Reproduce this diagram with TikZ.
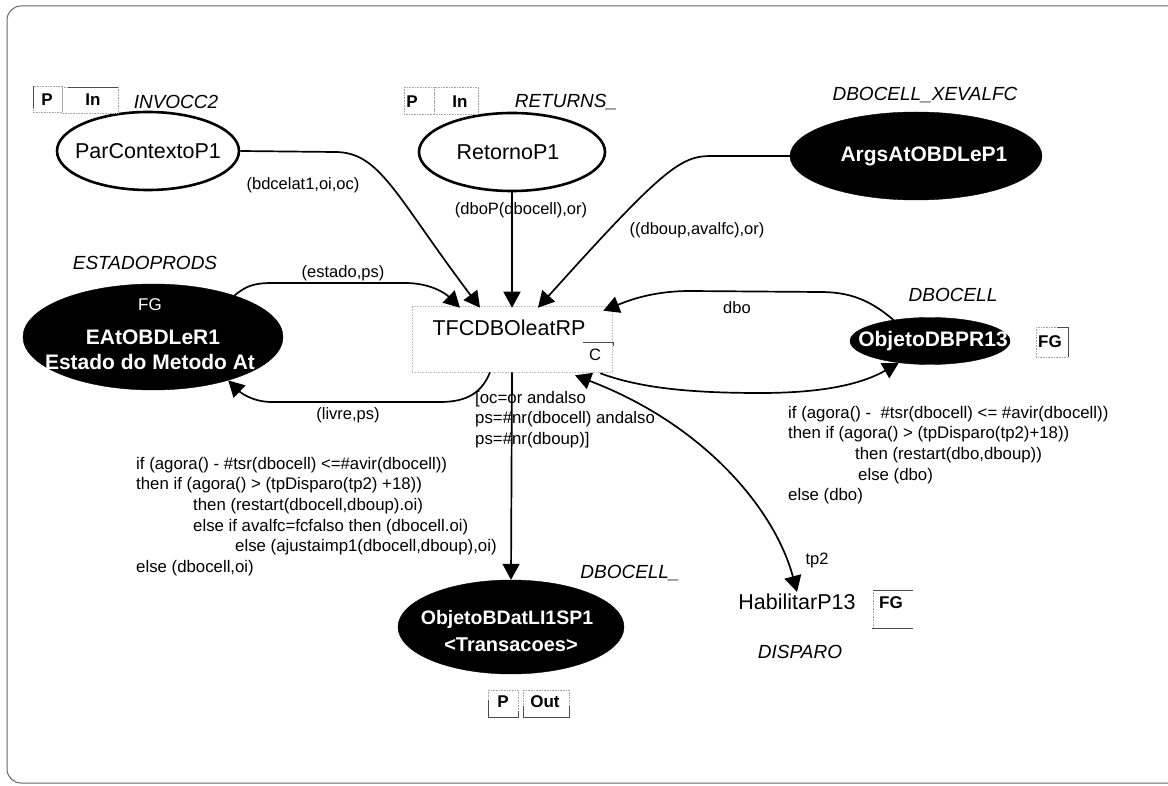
\documentclass[tikz,border=0pt]{standalone}
\usepackage{fontspec}
\setmainfont{Liberation Sans}
\usetikzlibrary{shapes.geometric,arrows.meta,calc}

\begin{document}
\begin{tikzpicture}[x=1pt,y=-1pt,
  place/.style={ellipse, draw=black, line width=2.6pt, inner sep=0pt},
  fplace/.style={ellipse, fill=black, draw=black, inner sep=0pt},
  pname/.style={font=\fontsize{21.5}{24}\selectfont, inner sep=0pt},
  wname/.style={font=\fontsize{21}{26}\selectfont\bfseries, text=white, inner sep=0pt},
  ptype/.style={font=\fontsize{19}{22}\selectfont\itshape, inner sep=0pt},
  lbl/.style={font=\fontsize{16.5}{20.5}\selectfont, inner sep=0pt},
  insc/.style={font=\fontsize{16.8}{20.6}\selectfont, inner sep=0pt, align=left, anchor=north west},
  tag/.style={font=\fontsize{17}{20}\selectfont\bfseries, inner sep=0pt},
  arc/.style={line width=1.7pt, -{Triangle[length=16pt,width=17pt]}},
  ghost/.style={draw=black!35, densely dotted, line width=0.6pt},
  tagline/.style={draw=black!70, line width=0.8pt},
]
\useasboundingbox (0,0) rectangle (1168,786);

% page frame, open to the right
\begin{scope}
  \clip (0,0) rectangle (1168,786);
  \draw[black!60, line width=1pt, rounded corners=14pt] (1200,6) -- (7,6) -- (7,783) -- (1200,783);
\end{scope}

% ---------- transition ----------
\node[draw=black!25, densely dotted, line width=0.6pt, minimum width=200pt, minimum height=66pt, inner sep=0pt] (t) at (512,339) {};
\node[pname] (tname) at (509,328) {TFCDBOleatRP};
\node[lbl] (ctag) at (595,355) {C};
\draw[tagline] (583,342) -- (613,342) -- (613,346);

% ---------- places ----------
\node[place, minimum width=182pt, minimum height=78pt] (pc) at (148,151) {};
\node[pname] (pcname) at (pc) {ParContextoP1};
\node[ptype] (pctype) at (176,102) {INVOCC2};
\draw[ghost] (33,86) rectangle (62,112);
\draw[ghost] (62,87) rectangle (118,113);
\draw[tagline] (33,86) -- (33,108);
\draw[tagline] (68,87) -- (118,87);
\node[tag] (pcp) at (47,100) {P};
\node[tag] (pcin) at (93,100) {In};

\node[place, minimum width=186pt, minimum height=78pt] (rp) at (512,152) {};
\node[pname] (rpname) at (508,152) {RetornoP1};
\node[ptype] (rptype) at (566,102) {RETURNS\_};
\draw[ghost] (404,87) rectangle (434,114);
\draw[ghost] (434,87) rectangle (478,114);
\node[tag] (rpp) at (412,102) {P};
\node[tag] (rpin) at (460,102) {In};

\node[fplace, minimum width=252pt, minimum height=88pt] (args) at (916,156) {};
\node[wname] (argsname) at (924,156) {ArgsAtOBDLeP1};
\node[ptype] (argstype) at (925,95) {DBOCELL\_XEVALFC};

\node[fplace, minimum width=260pt, minimum height=106pt] (eat) at (153,337) {};
\node[font=\fontsize{17}{20}\selectfont, text=white, inner sep=0pt] (eatfg) at (150,305) {FG};
\node[wname] (eatname) at (153,337) {EAtOBDLeR1};
\node[wname] (eatsub) at (150,362) {Estado do Metodo At};
\node[ptype] (eattype) at (145,263) {ESTADOPRODS};

\node[fplace, minimum width=160pt, minimum height=47pt] (odb) at (930,341) {};
\node[wname] (odbname) at (933,341) {ObjetoDBPR13};
\node[ptype] (odbtype) at (953,295) {DBOCELL};
\draw[ghost] (1036,327) rectangle (1068,357);
\draw[tagline] (1057,327) -- (1068,327) -- (1068,357);
\node[tag] (odbfg) at (1050,342) {FG};

\node[fplace, minimum width=226pt, minimum height=94pt] (obd) at (511,627) {};
\node[wname, font=\fontsize{19.5}{24}\selectfont\bfseries] (obdname) at (507,619) {ObjetoBDatLI1SP1};
\node[wname, font=\fontsize{20}{24}\selectfont\bfseries] (obdsub) at (511,645) {<Transacoes>};
\node[ptype] (obdtype) at (630,573) {DBOCELL\_};
\draw[ghost] (488,690) rectangle (518,717);
\draw[ghost] (523,690) rectangle (569,717);
\draw[tagline] (488,700) -- (488,717) -- (518,717) -- (518,711);
\draw[tagline] (523,706) -- (523,717) -- (569,717) -- (569,706);
\node[tag] (obdp) at (503,702) {P};
\node[tag] (obdout) at (545,702) {Out};

\node[pname, inner sep=2pt] (hab) at (797,602) {HabilitarP13};
\node[ptype] (habtype) at (800,652) {DISPARO};
\draw[ghost] (873,590) -- (873,628);
\draw[tagline] (873,590) -- (913,590);
\draw[tagline] (872,628) -- (913,628);
\node[tag] (habfg) at (891,603) {FG};

% ---------- arc inscriptions ----------
\node[lbl] (l1) at (303,185) {(bdcelat1,oi,oc)};
\node[lbl] (l2) at (521,210) {(dboP(dbocell),or)};
\node[lbl] (l3) at (697,230) {((dboup,avalfc),or)};
\node[lbl] (l4) at (343,273) {(estado,ps)};
\node[lbl] (l5) at (348,415) {(livre,ps)};
\node[lbl] (l6) at (737,308) {dbo};
\node[lbl] (l7) at (817,560) {tp2};

\node[insc] (guard) at (475,391) {[oc=or andalso\\ps=\#nr(dbocell) andalso\\ps=\#nr(dboup)]};

\node[insc] (outexp) at (136,457) {if (agora() - \#tsr(dbocell) <=\#avir(dbocell))\\
then if (agora() > (tpDisparo(tp2) +18))\\
\hspace*{57pt}then (restart(dbocell,dboup).oi)\\
\hspace*{57pt}else if avalfc=fcfalso then (dbocell.oi)\\
\hspace*{99pt}else (ajustaimp1(dbocell,dboup),oi)\\
else (dbocell,oi)};

\node[insc] (dboexp) at (788,406) {if (agora() -\ \ \#tsr(dbocell) <= \#avir(dbocell))\\
then if (agora() > (tpDisparo(tp2)+18))\\
\hspace*{67pt}then (restart(dbo,dboup))\\
\hspace*{70pt}else (dbo)\\
else (dbo)};

% ---------- arcs ----------
\draw[arc] (eat.27) .. controls (245,287) and (252,283) .. (272,283) -- (405,283)
  .. controls (430,283) and (445,293) .. ($(t.north)+(-52,2)$);
\draw[arc] (pc.east) -- (335,152) .. controls (380,152) and (395,195) .. ($(t.north)+(-32,2)$);
\draw[arc] (rp.south) -- ($(t.north)+(0,2)$);
\draw[arc] (args.west) -- (710,156) .. controls (680,156) and (660,172) .. ($(t.north)+(26,2)$);
\draw[arc] ($(t.south)+(-22,0)$) .. controls (482,392) and (468,402) .. (440,402) -- (272,402)
  .. controls (252,402) and (240,392) .. (eat.-30);
\draw[arc] (t.south) -- (obd.north);
\draw[arc] (odb.150) .. controls (870,300) and (850,292) .. (820,292) -- (690,291)
  .. controls (650,291) and (625,302) .. ($(t.north east)+(-9,5)$);
\draw[arc] ($(t.south east)+(-12,1)$) .. controls (640,388) and (690,393) .. (760,393)
  .. controls (820,393) and (860,385) .. (odb.-145);
\draw[line width=1.7pt, {Triangle[length=16pt,width=17pt]}-{Triangle[length=16pt,width=17pt]}]
  ($(t.south)+(63,3)$) .. controls (705,425) and (775,510) .. (hab.north);
\end{tikzpicture}
\end{document}
